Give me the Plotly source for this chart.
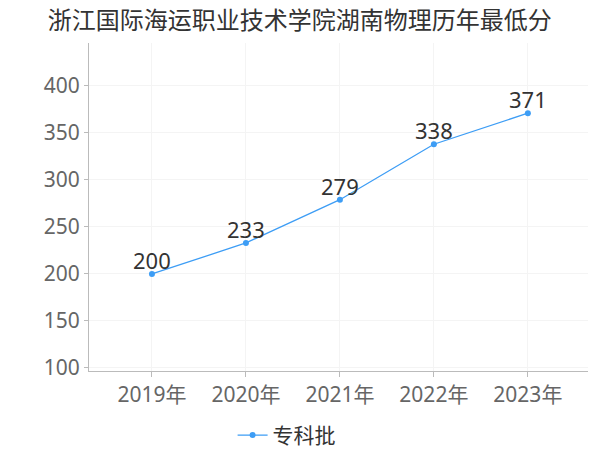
import plotly.graph_objects as go

years = ["2019年", "2020年", "2021年", "2022年", "2023年"]
scores = [200, 233, 279, 338, 371]
series_name = "专科批"

font = "Noto Sans, Noto Sans CJK SC, sans-serif"
cjk = "Noto Sans CJK SC, sans-serif"
xs = list(range(len(years)))

fig = go.Figure()
fig.add_trace(go.Scatter(
    x=xs, y=scores, name=series_name,
    mode="lines+markers",
    line=dict(color="#3d9df5", width=1.3),
    marker=dict(size=6, color="#3d9df5"),
))
for xv, v in zip(xs, scores):
    fig.add_annotation(x=xv, y=v, text=str(v), showarrow=False,
                       yanchor="bottom", yshift=-3,
                       font=dict(size=22, color="#333333", family=font))

# page body has an 8px margin, so the figure is sized to fit the 600x450 window
fig.update_layout(
    width=592, height=442,
    margin=dict(l=81, r=12, t=35, b=79, autoexpand=False),
    paper_bgcolor="white", plot_bgcolor="white",
    title=dict(text="浙江国际海运职业技术学院湖南物理历年最低分", x=0.493, xanchor="center",
               xref="container", y=0.972, yanchor="middle",
               font=dict(size=24, color="#333333", family=cjk)),
    showlegend=True,
    legend=dict(orientation="h", x=0.396, xanchor="center", y=-0.134, yanchor="top",
                font=dict(size=21, color="#333333", family=cjk)),
    xaxis=dict(
        tickmode="array", tickvals=xs, ticktext=years,
        range=[-0.67, 4.64],
        showline=True, linecolor="#bbbbbb", linewidth=1,
        ticks="outside", tickcolor="#bbbbbb", ticklen=5,
        showgrid=True, gridcolor="#f4f4f4",
        tickfont=dict(size=21, color="#666666", family=font),
        zeroline=False, automargin=False,
    ),
    yaxis=dict(
        range=[96.8, 445.7],
        tickvals=[100, 150, 200, 250, 300, 350, 400],
        showline=True, linecolor="#bbbbbb", linewidth=1,
        ticks="outside", tickcolor="#bbbbbb", ticklen=4,
        showgrid=True, gridcolor="#f4f4f4",
        tickfont=dict(size=21, color="#666666", family=font),
        zeroline=False, automargin=False,
    ),
)

fig.write_html("out.html")
